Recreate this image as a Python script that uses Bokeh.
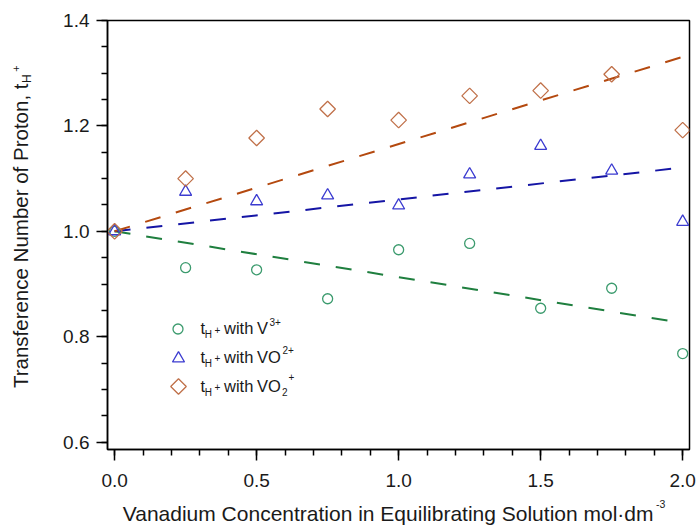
import numpy as np
from bokeh.plotting import figure
from bokeh.models import (Range1d, FixedTicker, Label, Legend, LegendItem,
                          NumeralTickFormatter)
from bokeh.embed import file_html
from bokeh.resources import INLINE

# ---------------- data ----------------
conc = [0.0, 0.25, 0.5, 0.75, 1.0, 1.25, 1.5, 1.75, 2.0]
t_v3 = [1.0, 0.931, 0.927, 0.872, 0.965, 0.977, 0.854, 0.892, 0.768]
t_vo2 = [1.0, 1.075, 1.057, 1.068, 1.049, 1.108, 1.162, 1.115, 1.018]
t_vo2p = [1.0, 1.100, 1.177, 1.232, 1.211, 1.257, 1.267, 1.298, 1.192]

fit_x = [0.0, 2.0]
fit_v3 = [1.0, 0.826]
fit_vo2 = [1.0, 1.121]
fit_vo2p = [1.0, 1.331]

x_ticks = [0.0, 0.5, 1.0, 1.5, 2.0]
x_minor = [0.0, 0.1, 0.2, 0.3, 0.4, 0.5, 0.6, 0.7, 0.8, 0.9, 1.0,
           1.1, 1.2, 1.3, 1.4, 1.5, 1.6, 1.7, 1.8, 1.9, 2.0]
y_ticks = [0.6, 0.8, 1.0, 1.2, 1.4]
y_minor = [0.6, 0.65, 0.7, 0.75, 0.8, 0.85, 0.9, 0.95, 1.0, 1.05, 1.1,
           1.15, 1.2, 1.25, 1.3, 1.35, 1.4]

# ---------------- layout / styles ----------------
W, H = 698, 525
FL, FR, FT, FB = 107, 689, 20, 449          # frame edges in page pixels
X0, X1, Y0, Y1 = -0.025, 2.024, 0.586, 1.4  # axis ranges
K = 0.4                                     # baseline correction (em)

def dx(px):
    return X0 + (px - FL) / (FR - FL) * (X1 - X0)

def dy(py):
    return Y1 - (py - FT) / (FB - FT) * (Y1 - Y0)

FONT = "Liberation Sans"
TXT = "#1a1a1a"
c_green_m, c_blue_m, c_orange_m = "#3c9b6e", "#3b3bd0", "#c0714a"
c_green_l, c_blue_l, c_orange_l = "#1f7f3f", "#1515a5", "#b4490f"

p = figure(width=W, height=H,
           x_range=Range1d(X0, X1), y_range=Range1d(Y0, Y1),
           output_backend="svg", toolbar_location=None,
           min_border_left=FL, min_border_right=W - FR,
           min_border_top=FT, min_border_bottom=H - FB)
p.xgrid.visible = False
p.ygrid.visible = False
p.outline_line_color = "black"
p.outline_line_width = 1.5
p.background_fill_color = "white"
p.border_fill_color = "white"

for ax, ticks, minor in ((p.xaxis[0], x_ticks, x_minor), (p.yaxis[0], y_ticks, y_minor)):
    ax.ticker = FixedTicker(ticks=ticks, minor_ticks=minor)
    ax.formatter = NumeralTickFormatter(format="0.0")
    ax.axis_line_color = "black"
    ax.axis_line_width = 1.5
    ax.major_tick_in = 0
    ax.major_tick_out = 11
    ax.minor_tick_in = 0
    ax.minor_tick_out = 6
    ax.major_tick_line_width = 1.5
    ax.minor_tick_line_width = 1.5
    ax.major_tick_line_color = "black"
    ax.minor_tick_line_color = "black"
    ax.major_label_text_font = FONT
    ax.major_label_text_font_size = "19px"
    ax.major_label_text_color = TXT
p.xaxis.major_label_standoff = 13
p.yaxis.major_label_standoff = 7

# ---------------- fit lines ----------------
for fy, col in ((fit_v3, c_green_l), (fit_vo2, c_blue_l), (fit_vo2p, c_orange_l)):
    p.line(fit_x, fy, line_color=col, line_width=2, line_dash="16 16")

# ---------------- markers ----------------
mk_v3 = dict(marker="circle", size=10, fill_color=None, line_color=c_green_m, line_width=1.3)
mk_vo2 = dict(marker="triangle", size=12, fill_color=None, line_color=c_blue_m, line_width=1.3)
mk_vo2p = dict(marker="square", angle=np.pi / 4, size=11, fill_color=None,
               line_color=c_orange_m, line_width=1.3)
r_v3 = p.scatter(conc, t_v3, **mk_v3)
r_vo2 = p.scatter(conc, t_vo2, **mk_vo2)
r_vo2p = p.scatter(conc, t_vo2p, **mk_vo2p)

# ---------------- legend keys ----------------
def add_legend(renderer, loc, g):
    leg = Legend(items=[LegendItem(label=" ", renderers=[renderer])],
                 location=loc, glyph_width=g, glyph_height=g,
                 padding=0, margin=0, spacing=0,
                 border_line_alpha=0, background_fill_alpha=0,
                 label_text_font_size="1px", label_height=g,
                 label_width=1, label_standoff=0)
    p.add_layout(leg)

add_legend(r_v3, (58, 108), 25)
add_legend(r_vo2, (56, 76), 30)
# rotated-square key (legend drawing ignores marker angle)
p.scatter([dx(178)], [dy(386)], **mk_vo2p)

# ---------------- legend texts (frame-relative screen units) ----------------
def stxt(s, x, y, size):
    p.add_layout(Label(x=x, y=y + K * size, x_units="screen", y_units="screen",
                       text=s, text_font=FONT, text_font_size=f"{size}px",
                       text_color=TXT, text_align="left",
                       text_baseline="alphabetic"))

legend_rows = [
    (114.7, "V", "3+", None),
    (86.3, "VO", "2+", None),
    (57.3, "VO", None, ("2", "+")),
]
for base, ion, sup, subsup in legend_rows:
    stxt("t", 93, base, 16.5)
    stxt("H", 97.3, base - 4, 10)
    stxt("+", 107, base + 0.8, 10)
    stxt("with", 116.5, base, 16.5)
    stxt(ion, 149.5, base, 16.5)
    if sup:
        stxt(sup, 162 if ion == "V" else 175, base + 8.8, 10)
    if subsup:
        stxt(subsup[0], 174.5, base - 4, 10)
        stxt(subsup[1], 181, base + 11.5, 10)

# ---------------- axis titles (side panels, positioned in data units) ----------------
def dtxt(s, px, py, size, place, align="left", rotated=False):
    if rotated:
        px = px - K * size
    else:
        py = py - K * size
    p.add_layout(Label(x=dx(px), y=dy(py), text=s,
                       text_font=FONT, text_font_size=f"{size}px", text_color=TXT,
                       text_align=align, text_baseline="alphabetic",
                       angle=np.pi / 2 if rotated else 0.0), place)

dtxt("Vanadium Concentration in Equilibrating Solution mol\u00b7dm", 653, 521,
     21, "below", align="right")
dtxt("-3", 655.5, 507.3, 10.5, "above")

dtxt("Transference Number of Proton, t", 28.3, 83, 20.5, "left",
     align="right", rotated=True)
dtxt("H", 31.7, 82.5, 12, "left", rotated=True)
dtxt("+", 19.8, 71.3, 11, "left", rotated=True)

open("out.html", "w").write(file_html(p, INLINE))
